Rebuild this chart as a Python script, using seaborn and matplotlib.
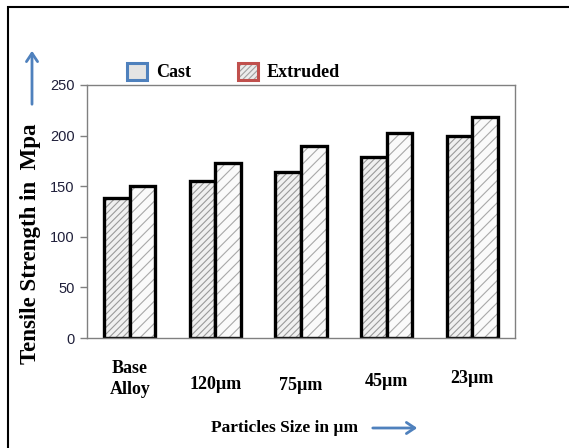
import matplotlib
matplotlib.use("Agg")
import matplotlib.pyplot as plt
import matplotlib.transforms as mtransforms
from matplotlib.colors import to_rgba
from matplotlib.patches import Rectangle, Patch, FancyArrowPatch
import seaborn as sns
import pandas as pd

categories = ["Base\nAlloy", "120\u00b5m", "75\u00b5m", "45\u00b5m", "23\u00b5m"]
cast = [138, 155, 164, 179, 200]
extruded = [150, 173, 190, 203, 218]
series_names = ["Cast", "Extruded"]
yticks = [0, 50, 100, 150, 200, 250]

df = pd.DataFrame({
    "size": categories * 2,
    "strength": cast + extruded,
    "type": [series_names[0]] * len(categories) + [series_names[1]] * len(categories),
})

sns.set_theme(style="white")
plt.rcParams["hatch.linewidth"] = 0.8
plt.rcParams["text.color"] = "black"
serif = ["Liberation Serif", "DejaVu Serif"]

fig = plt.figure(figsize=(5.69, 4.48), dpi=100)
ax = fig.add_axes([87 / 569, 1 - 338 / 448, (515 - 87) / 569, (338 - 85) / 448])

sns.barplot(data=df, x="size", y="strength", hue="type", order=categories,
            hue_order=series_names, palette=["#f0f0f0", "#fafafa"],
            width=0.6, edgecolor="black", linewidth=2.4, saturation=1,
            legend=False, ax=ax)

hatches = ["/////", "///"]
hatch_cols = ["#9a9a9a", "#a8a8a8"]
for cont, h, hc in zip(ax.containers, hatches, hatch_cols):
    for bar in cont:
        bar.set_hatch(h)
        bar._hatch_color = to_rgba(hc)
        bar.stale = True

ax.set_xlim(-0.5, len(categories) - 0.5)
ax.set_ylim(0, 250)
ax.set_yticks(yticks)
ax.set_yticklabels([str(v) for v in yticks], fontfamily="Liberation Sans",
                   fontsize=10.5, color="#1f1f3a")
ax.tick_params(axis="y", left=True, length=5, width=1, color="#808080", pad=4)
ax.tick_params(axis="x", bottom=False, pad=10)
ax.set_xlabel("")
ax.set_ylabel("")
for s in ax.spines.values():
    s.set_color("#808080")
    s.set_linewidth(1)

ax.set_xticks(range(len(categories)))
ax.set_xticklabels(categories, fontfamily=serif, fontweight="bold",
                   fontsize=13, color="black", linespacing=1.3)
offsets = [0, 16, 17, 13, 10]
for lbl, dy in zip(ax.get_xticklabels(), offsets):
    lbl.set_transform(lbl.get_transform() +
                      mtransforms.ScaledTranslation(0, -dy / 100, fig.dpi_scale_trans))

# axis titles
fig.text(285 / 569, 1 - 428 / 448, "Particles Size in \u00b5m", fontfamily=serif,
         fontweight="bold", fontsize=12.5, ha="center", va="center", color="black")
fig.text(31 / 569, 1 - 244 / 448, "Tensile Strength in  Mpa", fontfamily=serif,
         fontweight="bold", fontsize=16.5, rotation=90, ha="center", va="center",
         color="black")

# arrows
fig.patches.append(FancyArrowPatch((370 / 569, 1 - 428 / 448), (420 / 569, 1 - 428 / 448),
                                   transform=fig.transFigure, arrowstyle="->,head_length=6,head_width=4",
                                   color="#4f81bd", lw=2))
fig.patches.append(FancyArrowPatch((32 / 569, 1 - 107 / 448), (32 / 569, 1 - 48 / 448),
                                   transform=fig.transFigure, arrowstyle="->,head_length=6,head_width=4",
                                   color="#4f81bd", lw=2))

# outer frame
fig.patches.append(Rectangle((8 / 569, -0.1), 2, 1.1 - 7 / 448, transform=fig.transFigure,
                             fill=False, edgecolor="black", lw=1.5))

# legend
handles = [Patch(facecolor="#e4e4e4", edgecolor="#4f81bd", lw=2.2),
           Patch(facecolor="#ececec", edgecolor="#c0504d", lw=2.2, hatch="//////")]
leg = fig.legend(handles, series_names, loc="center left",
                 bbox_to_anchor=(120 / 569, 1 - 72 / 448), ncol=2, frameon=False,
                 prop={"family": serif, "weight": "bold", "size": 13},
                 handlelength=1.1, handleheight=1.1, handletextpad=0.5,
                 columnspacing=2.6, borderaxespad=0)
for t in leg.get_texts():
    t.set_color("black")
for p in leg.get_patches():
    p._hatch_color = to_rgba("#a0a0a0")

fig.savefig("out.png", dpi=100)
